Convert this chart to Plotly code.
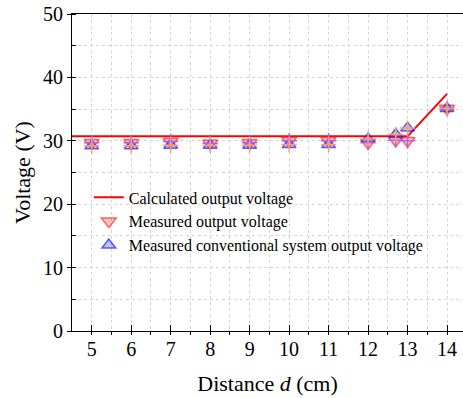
import plotly.graph_objects as go

# Data
calc_d = [4.5, 13.0, 14.0]
calc_v = [30.7, 30.7, 37.4]

meas_d = [5, 6, 7, 8, 9, 10, 11, 12, 12.7, 13, 14]
meas_v = [29.7, 29.7, 29.9, 29.6, 29.7, 30.0, 30.0, 29.7, 30.1, 30.0, 35.1]

conv_d = [5, 6, 7, 8, 9, 10, 11, 12, 12.7, 13, 14]
conv_v = [29.2, 29.2, 29.3, 29.3, 29.3, 29.4, 29.4, 30.3, 31.0, 32.0, 35.1]

x_ticks = [5, 6, 7, 8, 9, 10, 11, 12, 13, 14]
y_ticks = [0, 10, 20, 30, 40, 50]

FONT = "Liberation Serif"
red_fill = "rgba(255,40,40,0.28)"
red_line = "rgba(255,40,40,0.7)"
blue_fill = "rgba(40,40,255,0.28)"
blue_line = "rgba(40,40,255,0.75)"

fig = go.Figure()
fig.add_trace(go.Scatter(x=calc_d, y=calc_v, mode="lines", name="Calculated output voltage",
                         line=dict(color="#ff0000", width=2)))
fig.add_trace(go.Scatter(x=meas_d, y=meas_v, mode="markers", name="Measured output voltage",
                         marker=dict(symbol="triangle-down", size=13, color=red_fill,
                                     line=dict(color=red_line, width=1.5))))
fig.add_trace(go.Scatter(x=conv_d, y=conv_v, mode="markers",
                         name="Measured conventional system output voltage",
                         marker=dict(symbol="triangle-up", size=12, color=blue_fill,
                                     line=dict(color=blue_line, width=1.5))))
fig.add_trace(go.Scatter(x=meas_d, y=meas_v, mode="markers", showlegend=False, hoverinfo="skip",
                         marker=dict(symbol="cross-thin-open", size=11,
                                     line=dict(color=red_line, width=1.5))))
fig.add_trace(go.Scatter(x=conv_d, y=conv_v, mode="markers", showlegend=False, hoverinfo="skip",
                         marker=dict(symbol="cross-thin-open", size=11,
                                     line=dict(color=blue_line, width=1.5))))

grid_col = "#d6d6d6"
fig.update_layout(
    width=463, height=398,
    margin=dict(l=72, r=0, t=14, b=67),
    paper_bgcolor="white", plot_bgcolor="white",
    font=dict(family=FONT, color="black", size=20),
    showlegend=True,
    legend=dict(x=0.043, y=0.475, xanchor="left", yanchor="top",
                bgcolor="rgba(0,0,0,0)", font=dict(size=16, family=FONT),
                tracegroupgap=0, itemwidth=30),
    xaxis=dict(range=[4.5, 14.405], tickvals=x_ticks, ticktext=[str(v) for v in x_ticks],
               showline=True, linecolor="black", linewidth=1, mirror=True,
               ticks="inside", ticklen=6, tickcolor="black",
               showgrid=True, gridcolor=grid_col, griddash="dot", gridwidth=1,
               zeroline=False,
               minor=dict(dtick=0.5, tick0=4.5, ticks="outside", ticklen=3, tickcolor="black",
                          showgrid=True, gridcolor=grid_col, griddash="dot", gridwidth=1),
               tickfont=dict(size=20, family=FONT),
               title=dict(text="Distance <i>d</i> (cm)", font=dict(size=22, family=FONT), standoff=16)),
    yaxis=dict(range=[0, 50], tickvals=y_ticks,
               showline=True, linecolor="black", linewidth=1, mirror=False,
               ticks="outside", ticklen=4, tickcolor="black",
               showgrid=True, gridcolor=grid_col, griddash="dot", gridwidth=1,
               zeroline=False,
               minor=dict(dtick=5, ticks="inside", ticklen=4, tickcolor="black",
                          showgrid=True, gridcolor=grid_col, griddash="dot", gridwidth=1),
               tickfont=dict(size=20, family=FONT),
               title=dict(text="Voltage (V)", font=dict(size=22, family=FONT), standoff=6)),
)

fig.write_html("out.html")
